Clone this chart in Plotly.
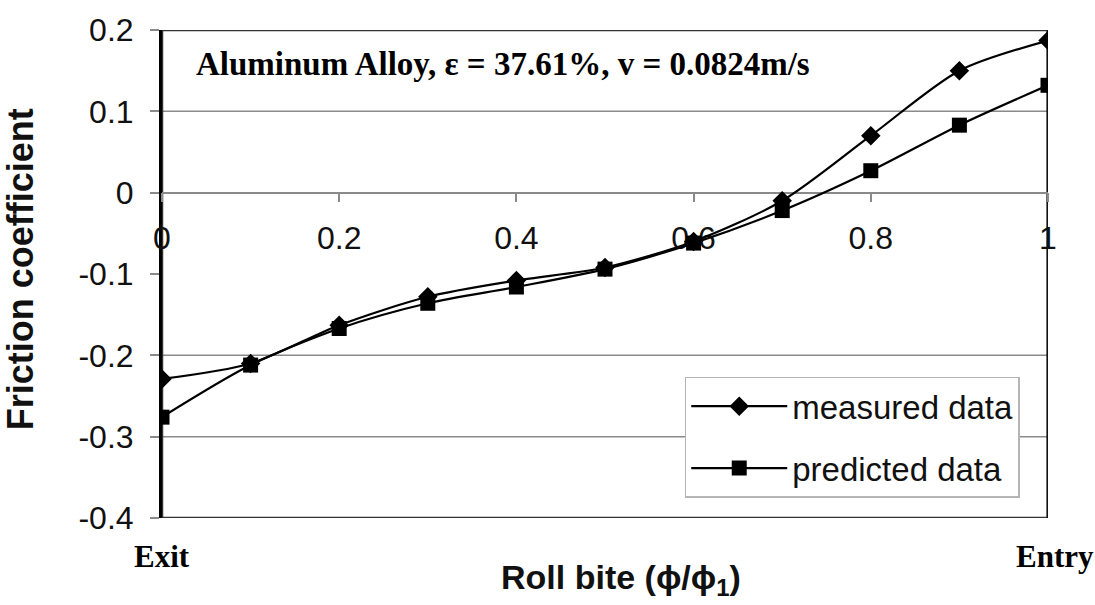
import plotly.graph_objects as go

# ---- data ----
x_vals = [0, 0.1, 0.2, 0.3, 0.4, 0.5, 0.6, 0.7, 0.8, 0.9, 1.0]
measured = [-0.229, -0.210, -0.163, -0.128, -0.108, -0.092, -0.060, -0.010, 0.070, 0.150, 0.187]
predicted = [-0.276, -0.212, -0.167, -0.136, -0.116, -0.094, -0.062, -0.022, 0.027, 0.083, 0.132]

series_names = ["measured data", "predicted data"]

y_range = [-0.4, 0.2]
y_tick_vals = [0.2, 0.1, 0, -0.1, -0.2, -0.3, -0.4]
y_tick_text = ["0.2", "0.1", "0", "-0.1", "-0.2", "-0.3", "-0.4"]
x_range = [0, 1]
x_tick_vals = [0, 0.2, 0.4, 0.6, 0.8, 1]
x_tick_text = ["0", "0.2", "0.4", "0.6", "0.8", "1"]
grid_y = [0.1, 0, -0.2, -0.3]

title_text = "Aluminum Alloy, ε = 37.61%, v = 0.0824m/s"
x_title = "Roll bite (ϕ/ϕ<sub>1</sub>)"
y_title = "Friction coefficient"
left_label = "Exit"
right_label = "Entry"

SANS = "Arial, Liberation Sans, sans-serif"
SERIF = "Times New Roman, Liberation Serif, serif"
GRID = "#8a8a8a"

fig = go.Figure()
fig.add_trace(go.Scatter(
    x=x_vals, y=measured, name=series_names[0], mode="lines+markers",
    line=dict(color="black", width=2.2, shape="spline", smoothing=0.8),
    marker=dict(symbol="diamond", size=15, color="black"),
    legendgroup="m"))
fig.add_trace(go.Scatter(
    x=x_vals, y=predicted, name=series_names[1], mode="lines+markers",
    line=dict(color="black", width=2.2, shape="spline", smoothing=0.8),
    marker=dict(symbol="square", size=15, color="black"),
    legendgroup="p"))

shapes = []
for gy in grid_y:
    shapes.append(dict(type="line", xref="x", yref="y", x0=x_range[0], x1=x_range[1],
                       y0=gy, y1=gy, line=dict(color=GRID, width=1.5), layer="below"))
shapes.append(dict(type="rect", xref="x", yref="y", x0=x_range[0], x1=x_range[1],
                   y0=y_range[0], y1=y_range[1], line=dict(color="#333333", width=2.5),
                   layer="below"))
shapes.append(dict(type="line", xref="x", yref="y", x0=x_range[1], x1=x_range[1],
                   y0=y_range[0], y1=y_range[1], line=dict(color="#111111", width=3),
                   layer="below"))

zero_pos = (0 - y_range[0]) / (y_range[1] - y_range[0])

fig.update_layout(
    width=1095, height=605,
    margin=dict(l=162, r=47, t=24, b=87),
    paper_bgcolor="white", plot_bgcolor="white",
    showlegend=True,
    legend=dict(x=0.590, y=0.2895, xanchor="left", yanchor="top",
                bgcolor="white", bordercolor="#b5b5b5", borderwidth=1.5,
                font=dict(family=SANS, size=33, color="#111111"),
                traceorder="grouped", tracegroupgap=16, itemwidth=96),
    shapes=shapes,
    xaxis=dict(range=x_range, anchor="free", position=zero_pos,
               tickvals=x_tick_vals, ticktext=x_tick_text,
               showgrid=False, zeroline=False, showline=True, linecolor=GRID, linewidth=1.5,
               ticks="outside", ticklen=9, tickcolor=GRID, tickwidth=1.5,
               ticklabelstandoff=8, layer="below traces",
               tickfont=dict(family=SANS, size=32, color="#111111")),
    yaxis=dict(range=y_range, tickvals=y_tick_vals, ticktext=y_tick_text,
               showgrid=False, zeroline=False, showline=True, linecolor="black", linewidth=3,
               ticks="outside", ticklen=9, tickcolor=GRID, tickwidth=1.5,
               ticklabelstandoff=10, layer="below traces",
               tickfont=dict(family=SANS, size=32, color="#111111")),
    annotations=[
        dict(text="<b>" + title_text + "</b>", xref="paper", yref="paper",
             x=0.385, y=0.931, xanchor="center", yanchor="middle", showarrow=False,
             font=dict(family=SERIF, size=33, color="black")),
        dict(text="<b>" + y_title + "</b>", xref="paper", yref="paper",
             x=-0.160, y=0.51, xanchor="center", yanchor="middle", showarrow=False,
             textangle=-90, font=dict(family=SANS, size=36, color="#111111")),
        dict(text="<b>" + x_title + "</b>", xref="paper", yref="paper",
             x=0.518, y=-0.125, xanchor="center", yanchor="middle", showarrow=False,
             font=dict(family=SANS, size=34, color="#111111")),
        dict(text="<b>" + left_label + "</b>", xref="paper", yref="paper",
             x=0.0, y=-0.079, xanchor="center", yanchor="middle", showarrow=False,
             font=dict(family=SERIF, size=31, color="black")),
        dict(text="<b>" + right_label + "</b>", xref="paper", yref="paper",
             x=1.008, y=-0.079, xanchor="center", yanchor="middle", showarrow=False,
             font=dict(family=SERIF, size=31, color="black")),
    ],
)

fig.write_html("out.html")
